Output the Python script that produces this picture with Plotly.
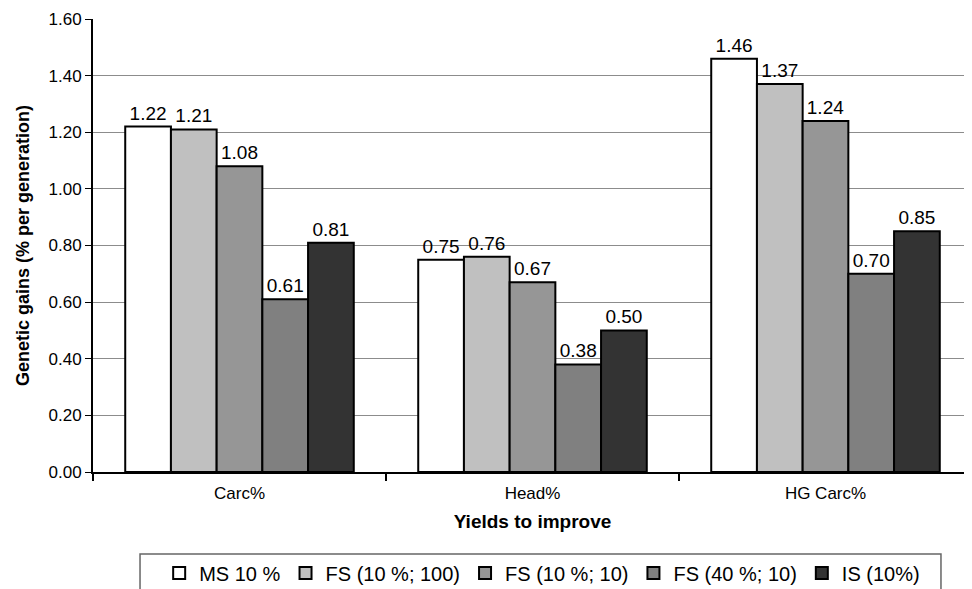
import plotly.graph_objects as go

categories = ["Carc%", "Head%", "HG Carc%"]
series_names = ["MS 10 %", "FS (10 %; 100)", "FS (10 %; 10)", "FS (40 %; 10)", "IS (10%)"]
ms_10 = [1.22, 0.75, 1.46]
fs_10_100 = [1.21, 0.76, 1.37]
fs_10_10 = [1.08, 0.67, 1.24]
fs_40_10 = [0.61, 0.38, 0.70]
is_10 = [0.81, 0.50, 0.85]

series_values = [ms_10, fs_10_100, fs_10_10, fs_40_10, is_10]
colors = ["#ffffff", "#c0c0c0", "#969696", "#808080", "#333333"]

font = "Liberation Sans, Arial, sans-serif"

fig = go.Figure()
for name, vals, col in zip(series_names, series_values, colors):
    fig.add_trace(go.Bar(
        x=categories,
        y=vals,
        name=name,
        marker=dict(color=col, line=dict(color="black", width=2)),
        text=[f"{v:.2f}" for v in vals],
        textposition="outside",
        textfont=dict(size=19, color="black", family=font),
        cliponaxis=False,
    ))

# legend frame (Excel style box running off the bottom edge)
fig.add_shape(
    type="rect", xref="paper", yref="paper",
    x0=0.0535, x1=0.9647, y0=-0.30, y1=-0.181,
    line=dict(color="#666666", width=1.5),
    fillcolor="rgba(0,0,0,0)",
)

# page body adds an 8px offset, margins compensate for it
fig.update_layout(
    width=972,
    height=589,
    margin=dict(l=85, r=8, t=11, b=125, autoexpand=False),
    plot_bgcolor="white",
    paper_bgcolor="white",
    font=dict(family=font, color="black"),
    barmode="group",
    bargap=0.22,
    bargroupgap=0,
    showlegend=True,
    legend=dict(
        orientation="h",
        x=0.511,
        xanchor="center",
        y=-0.223,
        yanchor="middle",
        borderwidth=0,
        bgcolor="rgba(0,0,0,0)",
        font=dict(size=20),
        itemwidth=30,
    ),
)

fig.update_yaxes(
    range=[0, 1.6],
    dtick=0.2,
    tickformat=".2f",
    showgrid=True,
    gridcolor="#8c8c8c",
    gridwidth=1,
    showline=True,
    linecolor="black",
    linewidth=2,
    ticks="outside",
    ticklen=6,
    tickwidth=1,
    tickcolor="black",
    tickfont=dict(size=17),
    title=dict(text="<b>Genetic gains (% per generation)</b>", font=dict(size=18), standoff=14),
    zeroline=False,
    automargin=False,
)

fig.update_xaxes(
    showline=True,
    linecolor="black",
    linewidth=2,
    ticks="outside",
    tickson="boundaries",
    ticklen=7,
    tickwidth=2,
    tickcolor="black",
    tickfont=dict(size=17),
    ticklabelstandoff=5,
    title=dict(text="<b>Yields to improve</b>", font=dict(size=19), standoff=12),
    automargin=False,
)

fig.write_html("out.html")
